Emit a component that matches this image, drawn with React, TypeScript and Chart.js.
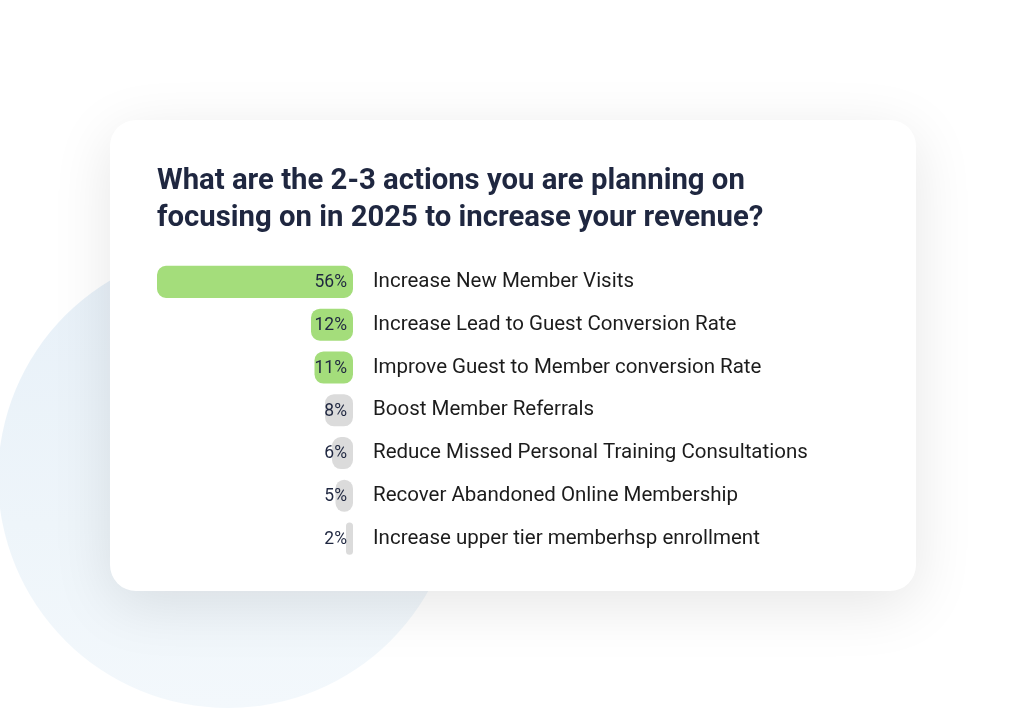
import React, { useEffect, useRef } from "react";
import { Chart, registerables } from "chart.js";

Chart.register(...registerables);

const titleLines = [
  "What are the 2-3 actions you are planning on",
  "focusing on in 2025 to increase your revenue?",
];

const categories = [
  "Increase New Member Visits",
  "Increase Lead to Guest Conversion Rate",
  "Improve Guest to Member conversion Rate",
  "Boost Member Referrals",
  "Reduce Missed Personal Training Consultations",
  "Recover Abandoned Online Membership",
  "Increase upper tier memberhsp enrollment",
];

const values = [56, 12, 11, 8, 6, 5, 2];

const highlighted = [true, true, true, false, false, false, false];

const GREEN = "#a4dd7b";
const GRAY = "#dbdbdb";
const NAVY = "#1f2740";

const valueLabelPlugin = {
  id: "valueLabels",
  afterDatasetsDraw(chart: any) {
    const ctx = chart.ctx;
    const meta = chart.getDatasetMeta(0);
    ctx.save();
    ctx.font = "17.5px Roboto";
    ctx.fillStyle = NAVY;
    ctx.textAlign = "right";
    ctx.textBaseline = "middle";
    meta.data.forEach((bar: any, i: number) => {
      ctx.fillText(values[i] + "%", bar.base - 6, bar.y + 1);
    });
    ctx.restore();
  },
};

export default function App() {
  const canvasRef = useRef<HTMLCanvasElement | null>(null);

  useEffect(() => {
    if (!canvasRef.current) return;
    const CANVAS_W = 700;
    const AREA_W = 196;
    const chart = new Chart(canvasRef.current, {
      type: "bar",
      data: {
        labels: categories,
        datasets: [
          {
            data: values,
            backgroundColor: highlighted.map((h) => (h ? GREEN : GRAY)),
            borderRadius: 9,
            borderSkipped: false,
            categoryPercentage: 1,
            barPercentage: 0.75,
          },
        ],
      },
      options: {
        indexAxis: "y",
        animation: false,
        responsive: false,
        maintainAspectRatio: false,
        layout: { padding: 0 },
        plugins: {
          legend: { display: false },
          tooltip: { enabled: false },
          title: {
            display: true,
            text: titleLines,
            align: "start",
            color: NAVY,
            font: { family: "Roboto", size: 29.3, weight: "bold", lineHeight: 1.263 },
            padding: { top: 1, bottom: 23.5 },
          },
        },
        scales: {
          x: {
            display: false,
            reverse: true,
            min: 0,
            max: 56,
          },
          y: {
            position: "right",
            grid: { display: false, drawTicks: false },
            border: { display: false },
            ticks: {
              padding: 20,
              color: "#1c1c1c",
              font: { family: "Roboto", size: 20.5 },
              crossAlign: "near",
            },
            afterFit(scale: any) {
              scale.width = CANVAS_W - AREA_W;
              scale.paddingTop = 0;
              scale.paddingBottom = 0;
            },
          },
        },
      },
      plugins: [valueLabelPlugin],
    });
    return () => chart.destroy();
  }, []);

  return (
    <div
      style={{
        position: "fixed",
        left: 0,
        top: 0,
        width: 1024,
        height: 710,
        overflow: "hidden",
        background: "#ffffff",
      }}
    >
      <div
        style={{
          position: "absolute",
          left: 228 - 230,
          top: 478 - 230,
          width: 460,
          height: 460,
          borderRadius: "50%",
          background: "linear-gradient(180deg, #e7f0f8 0%, #eef5fa 60%, #f3f8fc 100%)",
        }}
      />
      <div
        style={{
          position: "absolute",
          left: 110,
          top: 120,
          width: 806,
          height: 471,
          borderRadius: 26,
          background: "#ffffff",
          boxShadow: "0 14px 60px rgba(0,0,0,0.1)",
        }}
      />
      <canvas
        ref={canvasRef}
        width={700}
        height={398}
        style={{ position: "absolute", left: 157, top: 162, width: 700, height: 398 }}
      />
    </div>
  );
}
